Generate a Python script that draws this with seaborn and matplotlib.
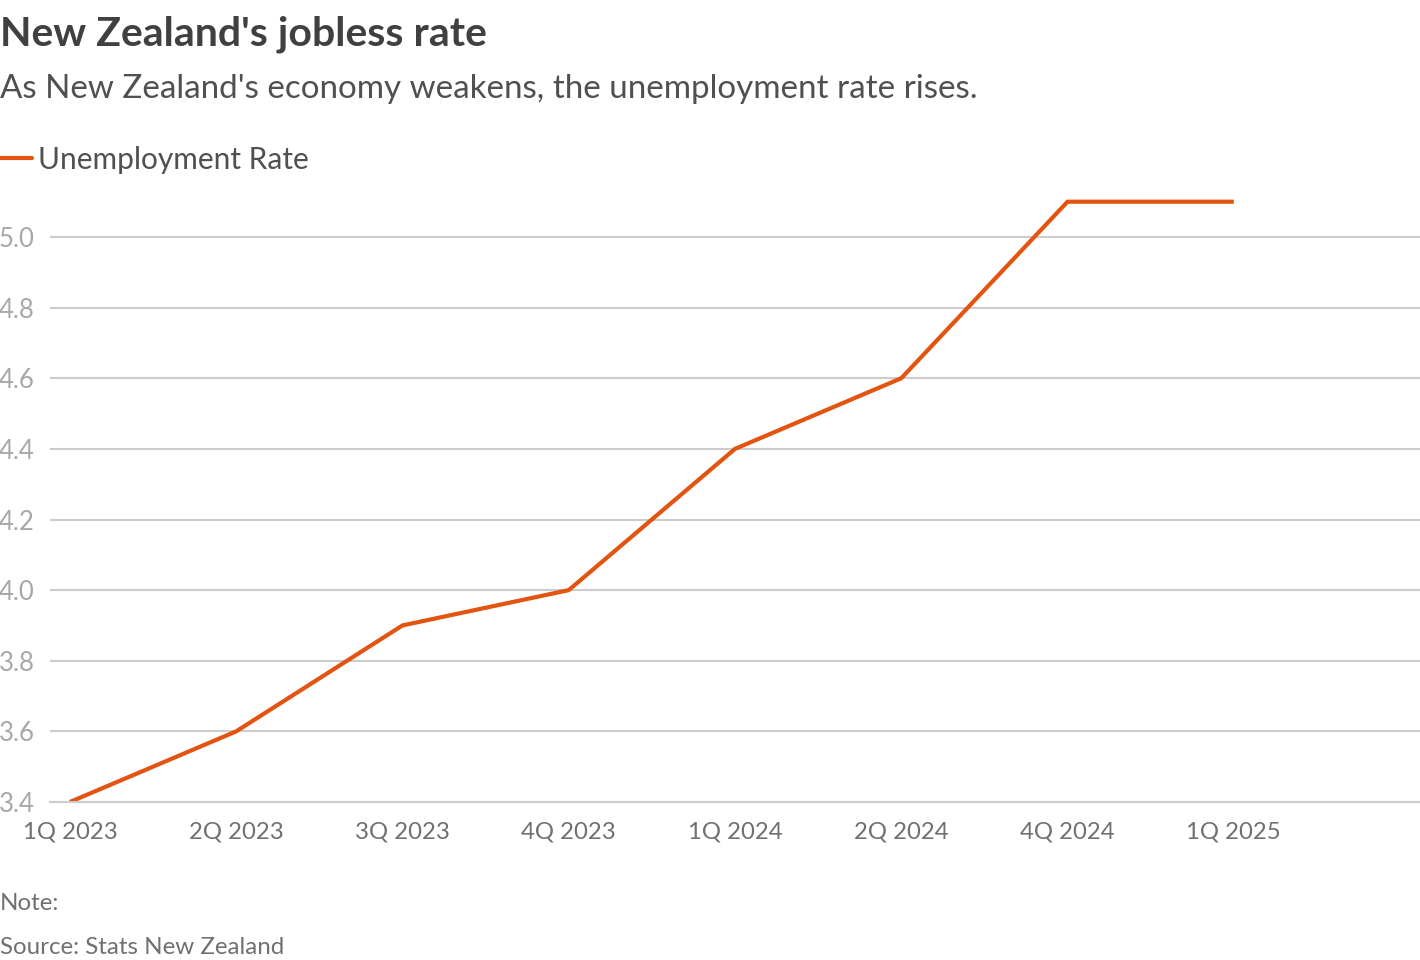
import pandas as pd
import seaborn as sns
import matplotlib.pyplot as plt

quarters = ["1Q 2023", "2Q 2023", "3Q 2023", "4Q 2023", "1Q 2024", "2Q 2024", "4Q 2024", "1Q 2025"]
rate = [3.4, 3.6, 3.9, 4.0, 4.4, 4.6, 5.1, 5.1]
y_ticks = [3.4, 3.6, 3.8, 4.0, 4.2, 4.4, 4.6, 4.8, 5.0]

LINE = "#e2540f"
GRID = "#cccccc"

sns.set_theme(style="white")
plt.rcParams["font.family"] = ["Lato", "DejaVu Sans"]

df = pd.DataFrame({"pos": range(len(quarters)), "quarter": quarters, "rate": rate})

fig = plt.figure(figsize=(14.2, 9.6), dpi=100)
ax = fig.add_axes([0.0352, 0.1646, 0.9648, 0.64])

sns.lineplot(data=df, x="pos", y="rate", color=LINE, linewidth=3, ax=ax,
             solid_capstyle="butt", solid_joinstyle="miter")

ax.set_xlim(-0.12, 8.12)
ax.set_ylim(3.4, 5.14)
ax.set_xticks(df["pos"])
ax.set_xticklabels(quarters)
ax.set_yticks(y_ticks)
ax.set_yticklabels([f"{v:.1f}" for v in y_ticks])
ax.set_xlabel("")
ax.set_ylabel("")

ax.grid(axis="y", color=GRID, linewidth=1.5)
ax.set_axisbelow(True)
for s in ["top", "right", "left"]:
    ax.spines[s].set_visible(False)
ax.spines["bottom"].set_color(GRID)
ax.spines["bottom"].set_linewidth(1.5)
ax.tick_params(axis="y", length=0, pad=11, labelsize=18.5, labelcolor="#a8a8a8")
ax.tick_params(axis="x", length=0, pad=14, labelsize=17.2, labelcolor="#707070")

fig.text(0.0, 0.964, "New Zealand's jobless rate", fontsize=29.5, fontweight="bold",
         color="#404040", va="center", ha="left")
fig.text(0.0, 0.907, "As New Zealand's economy weakens, the unemployment rate rises.",
         fontsize=23.9, color="#505050", va="center", ha="left")

# legend
fig.lines.append(plt.Line2D([0.0, 0.0225], [0.835, 0.835], color=LINE, linewidth=3,
                            transform=fig.transFigure))
fig.text(0.027, 0.833, "Unemployment Rate", fontsize=21.5, color="#505050",
         va="center", ha="left")

fig.text(0.0, 0.059, "Note:", fontsize=17.4, color="#707070", va="center", ha="left")
fig.text(0.0, 0.013, "Source: Stats New Zealand", fontsize=17.4, color="#707070",
         va="center", ha="left")

fig.savefig("out.png", dpi=100)
